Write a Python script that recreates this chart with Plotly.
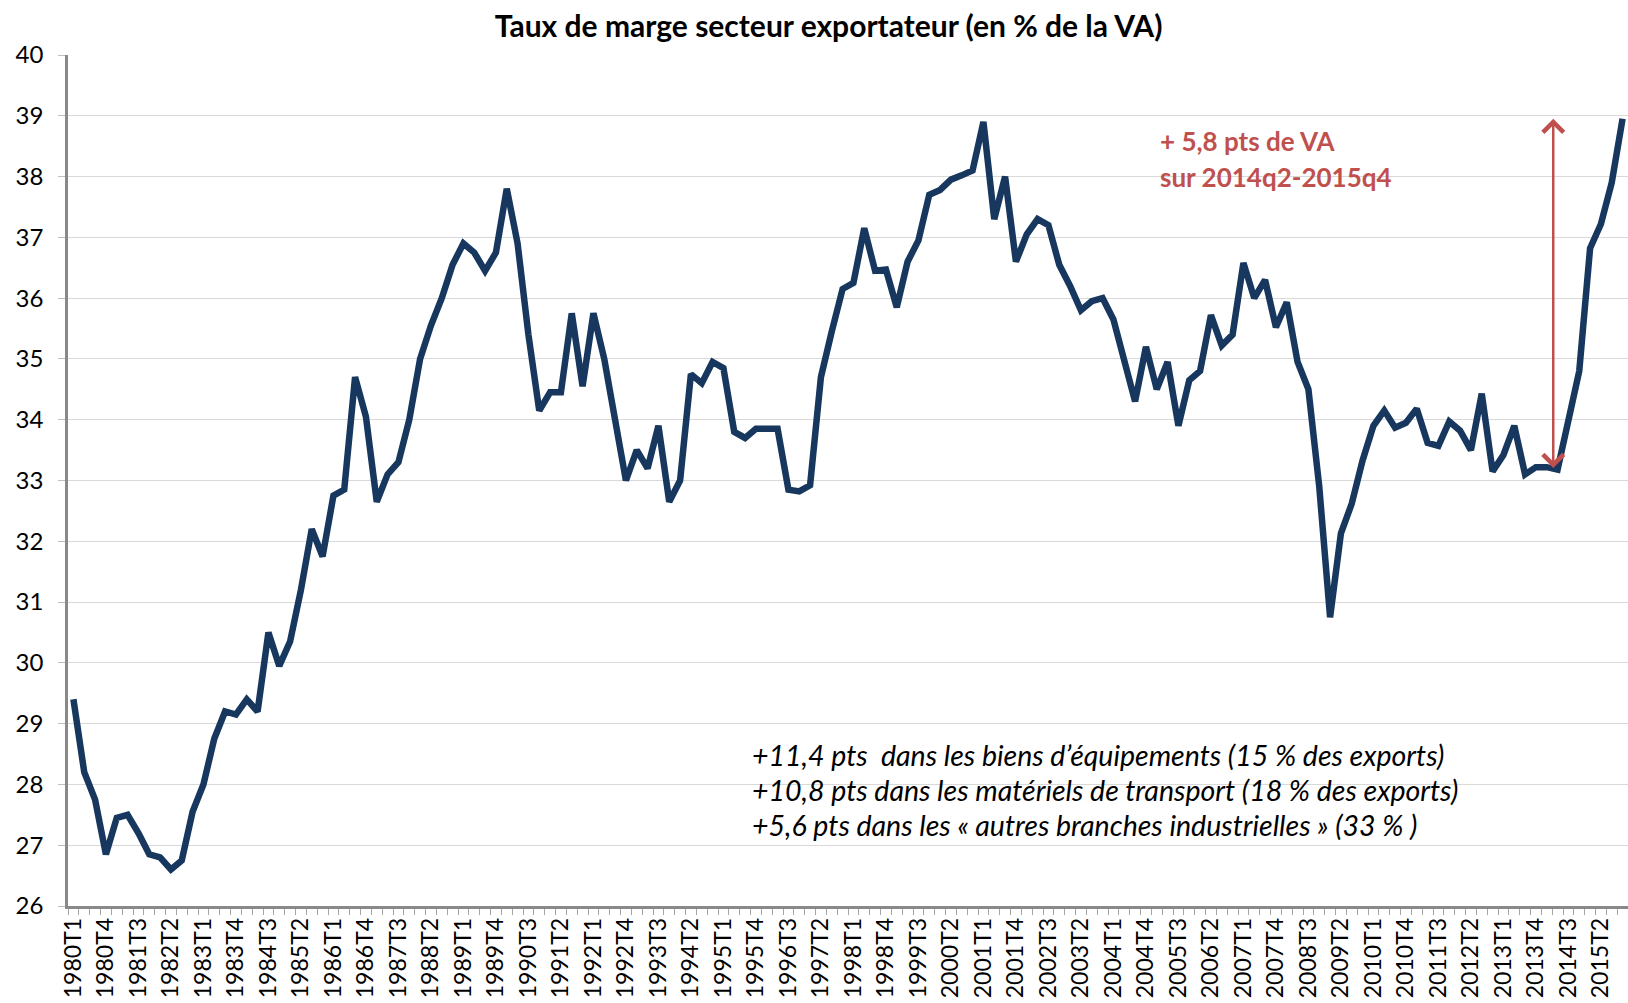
import plotly.graph_objects as go

# ---- data ----
years = list(range(1980, 2016))
quarters = [f"{y}T{q}" for y in years for q in range(1, 5)]

values_1980s = [29.4, 28.2, 27.75, 26.85, 27.45, 27.5, 27.2, 26.85, 26.8, 26.6,
                26.75, 27.55, 28.0, 28.75, 29.2, 29.15, 29.4, 29.2, 30.5, 29.95,
                30.35, 31.2, 32.2, 31.75, 32.75, 32.85, 34.7, 34.05, 32.65, 33.1,
                33.3, 34.0, 35.0, 35.55, 36.0, 36.55, 36.9, 36.75, 36.45, 36.75]
values_1990s = [37.8, 36.9, 35.4, 34.15, 34.45, 34.45, 35.75, 34.55, 35.75, 35.0,
                34.0, 33.0, 33.5, 33.2, 33.9, 32.65, 33.0, 34.75, 34.6, 34.95,
                34.85, 33.8, 33.7, 33.85, 33.85, 33.85, 32.85, 32.82, 32.92, 34.7,
                35.45, 36.15, 36.25, 37.15, 36.45, 36.47, 35.85, 36.6, 36.95, 37.7]
values_2000s = [37.78, 37.95, 38.02, 38.1, 38.9, 37.3, 38.0, 36.6, 37.05, 37.3,
                37.2, 36.55, 36.2, 35.8, 35.95, 36.0, 35.65, 34.97, 34.3, 35.2,
                34.5, 34.95, 33.9, 34.65, 34.8, 35.72, 35.22, 35.4, 36.58, 36.0,
                36.3, 35.52, 35.93, 34.95, 34.5, 32.9, 30.75, 32.13, 32.62, 33.33]
values_2010s = [33.9, 34.15, 33.87, 33.95, 34.18, 33.62, 33.57, 33.97, 33.82, 33.5,
                34.43, 33.15, 33.42, 33.9, 33.1, 33.22, 33.22, 33.18, 33.97, 34.8,
                36.82, 37.22, 37.9, 38.95]
values = values_1980s + values_1990s + values_2000s + values_2010s

tick_text = [q if i % 3 == 0 else "" for i, q in enumerate(quarters)]

title_text = "Taux de marge secteur exportateur (en % de la VA)"
red_lines = ["+ 5,8 pts de VA", "sur 2014q2-2015q4"]
note_lines = ["+11,4 pts&nbsp;&nbsp;dans les biens d’équipements (15 % des exports)",
              "+10,8 pts dans les matériels de transport (18 % des exports)",
              "+5,6 pts dans les « autres branches industrielles » (33 % )"]

arrow_from = "2014T2"
arrow_to = "2015T4"

# ---- figure ----
W, H = 1628, 1003
L, R, T, B = 68, 0, 55, 97
FONT = "Lato"
RED = "#C0504D"

fig = go.Figure()
fig.add_trace(go.Scatter(x=quarters, y=values, mode="lines",
                         line=dict(color="#17375E", width=6.5),
                         hoverinfo="x+y", showlegend=False))

def px_to_paper(px, py):
    return (px - L) / (W - L - R), (H - B - py) / (H - T - B)

annotations = []
for i, txt in enumerate(red_lines):
    xp, yp = px_to_paper(1158, 141 + 35.5 * i)
    annotations.append(dict(text=f"<b>{txt}</b>", xref="paper", yref="paper",
                            x=xp, y=yp, xanchor="left", yanchor="middle",
                            showarrow=False,
                            font=dict(family=FONT, size=26, color=RED)))
for i, txt in enumerate(note_lines):
    xp, yp = px_to_paper(750, 755 + 35 * i)
    annotations.append(dict(text=f"<i>{txt}</i>", xref="paper", yref="paper",
                            x=xp, y=yp, xanchor="left", yanchor="middle",
                            showarrow=False,
                            font=dict(family=FONT, size=28.5, color="#000000")))

i_from = quarters.index(arrow_from)
i_to = quarters.index(arrow_to)
ax_pos = i_from - 0.4
annotations.append(dict(x=ax_pos, y=values[i_to], ax=ax_pos, ay=values[i_from],
                        xref="x", yref="y", axref="x", ayref="y", text="",
                        showarrow=True, arrowside="end+start", arrowhead=4,
                        startarrowhead=4, arrowsize=1.6, startarrowsize=1.6,
                        arrowwidth=2.5, arrowcolor=RED))

fig.update_layout(
    width=W, height=H,
    margin=dict(l=L, r=R, t=T, b=B, autoexpand=False),
    paper_bgcolor="white", plot_bgcolor="white",
    font=dict(family=FONT, color="#000000"),
    title=dict(text=f"<b>{title_text}</b>", x=828.6 / W, xref="container",
               xanchor="center", y=1 - 26 / H, yref="container",
               yanchor="middle", font=dict(family=FONT, size=30, color="#000000")),
    annotations=annotations,
    xaxis=dict(type="category", categoryorder="array", categoryarray=quarters,
               range=[-0.5, len(quarters) - 0.5],
               tickmode="array", tickvals=quarters, ticktext=tick_text,
               tickson="boundaries", ticks="outside", ticklen=6, tickwidth=1.3,
               tickcolor="#A6A6A6", tickangle=-90,
               tickfont=dict(family=FONT, size=23, color="#000000"),
               showline=True, linecolor="#898989", linewidth=2.5,
               showgrid=False, zeroline=False, automargin=False),
    yaxis=dict(range=[26, 40], dtick=1, tick0=26,
               ticks="outside", ticklen=7, tickwidth=1.3, tickcolor="#BFBFBF",
               tickfont=dict(family=FONT, size=24, color="#000000"),
               ticklabelstandoff=10,
               showline=True, linecolor="#898989", linewidth=2.5,
               showgrid=True, gridcolor="#D9D9D9", gridwidth=1.3,
               zeroline=False, automargin=False),
)

fig.write_html("out.html",
               config={"displayModeBar": False},
               post_script="document.body.style.margin='0';"
                           "document.body.style.overflow='hidden';")
